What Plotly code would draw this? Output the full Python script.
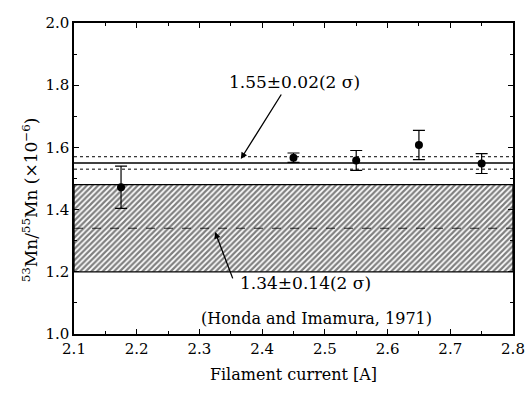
import plotly.graph_objects as go

# Measured 53Mn/55Mn ratios (x 1e-6) versus filament current
current = [2.175, 2.45, 2.55, 2.65, 2.75]
ratio = [1.472, 1.567, 1.558, 1.608, 1.548]
err_plus = [0.068, 0.015, 0.032, 0.047, 0.032]
err_minus = [0.068, 0.015, 0.032, 0.047, 0.032]

# Weighted mean of this work and its 2-sigma range
mean_this = 1.55
sig_this = 0.02
# Earlier value (Honda and Imamura, 1971)
mean_ref = 1.34
sig_ref = 0.14

x_range = [2.1, 2.8]
y_range = [1.0, 2.0]
x_ticks = [2.1, 2.2, 2.3, 2.4, 2.5, 2.6, 2.7, 2.8]
y_ticks = [1.0, 1.2, 1.4, 1.6, 1.8, 2.0]

SERIF = "DejaVu Serif"

fig = go.Figure()

# Hatched band of the earlier value
fig.add_trace(go.Scatter(
    x=[x_range[0], x_range[1], x_range[1], x_range[0], x_range[0]],
    y=[mean_ref - sig_ref, mean_ref - sig_ref, mean_ref + sig_ref,
       mean_ref + sig_ref, mean_ref - sig_ref],
    mode="lines", fill="toself",
    fillcolor="white",
    fillpattern=dict(shape="/", size=4, solidity=0.55,
                     fgcolor="black", bgcolor="white"),
    line=dict(color="black", width=1.3),
    showlegend=False, hoverinfo="skip",
))
fig.add_trace(go.Scatter(
    x=x_range, y=[mean_ref, mean_ref], mode="lines",
    line=dict(color="black", width=0.8, dash="dash"),
    showlegend=False, hoverinfo="skip",
))

# Mean of this work with dotted 2-sigma bounds
fig.add_trace(go.Scatter(
    x=x_range, y=[mean_this, mean_this], mode="lines",
    line=dict(color="black", width=1.5),
    showlegend=False, hoverinfo="skip",
))
for yv in (mean_this + sig_this, mean_this - sig_this):
    fig.add_trace(go.Scatter(
        x=x_range, y=[yv, yv], mode="lines",
        line=dict(color="black", width=1, dash="dot"),
        showlegend=False, hoverinfo="skip",
    ))

# Data points with error bars
fig.add_trace(go.Scatter(
    x=current, y=ratio, mode="markers",
    marker=dict(color="black", size=8),
    error_y=dict(type="data", symmetric=False, array=err_plus,
                 arrayminus=err_minus, color="black", thickness=1.2, width=6),
    showlegend=False,
))

font_ann = dict(family=SERIF, size=17, color="black")

# Labels and arrows
fig.add_annotation(x=2.366, y=1.563, ax=2.432, ay=1.775, axref="x", ayref="y",
                   xref="x", yref="y", text="", showarrow=True,
                   arrowhead=2, arrowsize=1, arrowwidth=1.3, arrowcolor="black")
fig.add_annotation(x=2.452, y=1.81, xref="x", yref="y",
                   text=f"{mean_this:.2f}±{sig_this:.2f}(2 σ)",
                   showarrow=False, font=font_ann)

fig.add_annotation(x=2.325, y=1.328, ax=2.354, ay=1.174, axref="x", ayref="y",
                   xref="x", yref="y", text="", showarrow=True,
                   arrowhead=2, arrowsize=1, arrowwidth=1.3, arrowcolor="black")
fig.add_annotation(x=2.362, y=1.164, xref="x", yref="y", xanchor="left",
                   text=f"{mean_ref:.2f}±{sig_ref:.2f}(2 σ)",
                   showarrow=False, font=font_ann)
fig.add_annotation(x=2.3, y=1.051, xref="x", yref="y", xanchor="left",
                   text="(Honda and Imamura, 1971)",
                   showarrow=False, font=dict(family=SERIF, size=16, color="black"))

# Vertical axis title, placed a little below the axis midpoint
fig.add_annotation(x=-0.1, y=0.43, xref="paper", yref="paper",
                   xanchor="center", yanchor="middle",
                   text="<sup>53</sup>Mn/<sup>55</sup>Mn (×10<sup>−6</sup>)",
                   textangle=-90, showarrow=False,
                   font=dict(family=SERIF, size=17, color="black"))

axis_common = dict(
    showgrid=False, zeroline=False, showline=True, linecolor="black",
    linewidth=1.5, mirror="ticks", ticks="inside", ticklen=5,
    tickwidth=1.2, tickcolor="black", automargin=False,
    tickfont=dict(family=SERIF, size=15, color="black"),
)

fig.update_xaxes(
    range=x_range, tickvals=x_ticks, ticktext=[f"{v:.1f}" for v in x_ticks],
    minor=dict(dtick=0.05, ticks="inside", ticklen=3, tickcolor="black"),
    title=dict(text="Filament current [A]",
               font=dict(family=SERIF, size=16, color="black"), standoff=12),
    **axis_common,
)
fig.update_yaxes(
    range=y_range, tickvals=y_ticks, ticktext=[f"{v:.1f}" for v in y_ticks],
    minor=dict(dtick=0.1, ticks="inside", ticklen=3, tickcolor="black"),
    **axis_common,
)

fig.update_layout(
    width=525, height=395,
    margin=dict(l=74, r=12, t=23, b=61),
    paper_bgcolor="white", plot_bgcolor="white",
)

fig.write_html("out.html")
